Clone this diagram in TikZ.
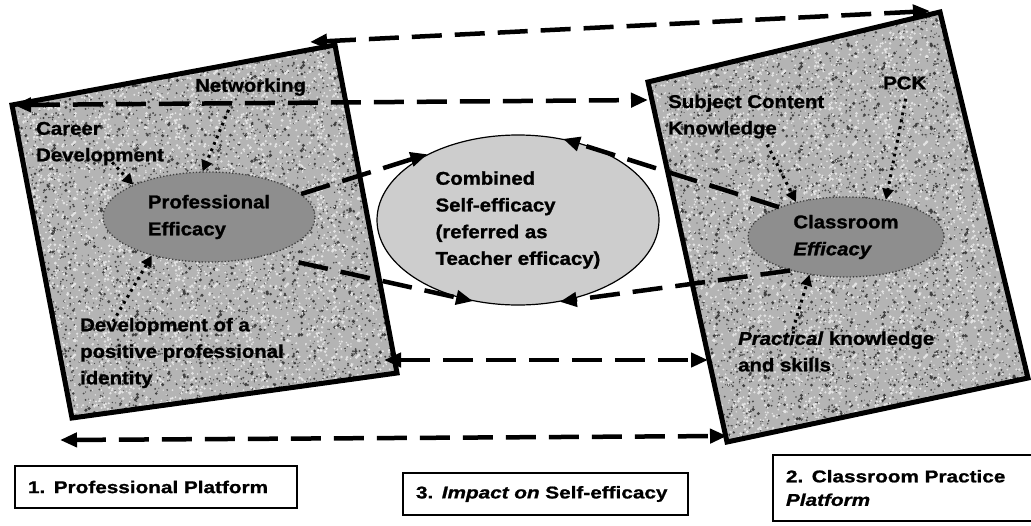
\documentclass[tikz,border=0pt]{standalone}
\usepackage{fontspec}
\setmainfont[FakeStretch=1.1,FakeBold=1.3]{Liberation Sans}
\newfontfamily\boxfont[FakeStretch=1.22,FakeBold=1.1]{Liberation Sans}
\usetikzlibrary{arrows.meta,shapes.geometric,calc,patterns}
\definecolor{granbase}{RGB}{180,180,180}
\definecolor{grandark}{RGB}{75,75,75}
\definecolor{granlight}{RGB}{228,228,228}
\definecolor{effgray}{RGB}{142,142,142}
\definecolor{combgray}{RGB}{205,205,205}
% random speck tiles for the granite texture
\pgfdeclarepatternformonly{gransmall}{\pgfqpoint{0pt}{0pt}}{\pgfqpoint{97pt}{97pt}}{\pgfqpoint{97pt}{97pt}}{%
  \pgfmathsetseed{11}%
  \foreach \i in {1,...,240}{%
    \pgfmathsetmacro\px{rnd*95+1}\pgfmathsetmacro\py{rnd*95+1}\pgfmathsetmacro\pr{0.5+rnd*0.7}%
    \pgfpathcircle{\pgfpoint{\px pt}{\py pt}}{\pr pt}\pgfusepath{fill}}}
\pgfdeclarepatternformonly{granbig}{\pgfqpoint{0pt}{0pt}}{\pgfqpoint{83pt}{83pt}}{\pgfqpoint{83pt}{83pt}}{%
  \pgfmathsetseed{23}%
  \foreach \i in {1,...,40}{%
    \pgfmathsetmacro\px{rnd*79+2}\pgfmathsetmacro\py{rnd*79+2}\pgfmathsetmacro\pr{1+rnd*0.9}%
    \pgfpathcircle{\pgfpoint{\px pt}{\py pt}}{\pr pt}\pgfusepath{fill}}}
\pgfdeclarepatternformonly{granwhite}{\pgfqpoint{0pt}{0pt}}{\pgfqpoint{71pt}{71pt}}{\pgfqpoint{71pt}{71pt}}{%
  \pgfmathsetseed{37}%
  \foreach \i in {1,...,170}{%
    \pgfmathsetmacro\px{rnd*69+1}\pgfmathsetmacro\py{rnd*69+1}\pgfmathsetmacro\pr{0.7+rnd*0.9}%
    \pgfpathcircle{\pgfpoint{\px pt}{\py pt}}{\pr pt}\pgfusepath{fill}}}
\tikzset{
  platform/.style={line width=5pt, line join=miter, draw=black},
  lbl/.style={font=\fontsize{18.5}{26.5}\selectfont\bfseries, align=left, inner sep=0pt, anchor=west, text=black},
  effic/.style={ellipse, fill=effgray, draw=black!75, dotted, line width=1.3pt, inner sep=0pt,
    font=\fontsize{18.5}{27}\selectfont\bfseries, align=left, text=black},
  combined/.style={ellipse, fill=combgray, draw=black, line width=1.2pt, inner sep=0pt,
    font=\fontsize{18.5}{26.7}\selectfont\bfseries, align=left, text=black},
  platlabel/.style={draw=black, line width=1.5pt, inner xsep=13pt, inner ysep=0pt, align=left,
    font=\boxfont\fontsize{17}{23.5}\selectfont\bfseries},
  dasharrow/.style={line width=4.5pt, dash pattern=on 30pt off 13pt,
    {Triangle[length=17pt,width=14pt]}-{Triangle[length=17pt,width=14pt]}},
  oneway/.style={line width=4.5pt, dash pattern=on 30pt off 13pt, -{Triangle[length=17pt,width=14pt]}},
  dotarrow/.style={line width=3pt, dash pattern=on 2.8pt off 4.2pt, -{Triangle[length=11pt,width=11pt]}},
  granite/.style={
    postaction={fill=granbase},
    postaction={pattern=gransmall, pattern color=grandark},
    postaction={pattern=granbig, pattern color=black!75},
    postaction={pattern=granwhite, pattern color=granlight}},
}
\begin{document}
\begin{tikzpicture}[x=1pt,y=-1pt]
\useasboundingbox (0,0) rectangle (1031,525);
\fill[white] (0,0) rectangle (1031,525);
% platform corners
\coordinate (A1) at (12,105);
\coordinate (A2) at (335,45);
\coordinate (A3) at (397,373);
\coordinate (A4) at (72,418);
\coordinate (B1) at (648,82);
\coordinate (B2) at (940,12);
\coordinate (B3) at (1028,378);
\coordinate (B4) at (727,442);
\path[granite] (A1)--(A2)--(A3)--(A4)--cycle;
\path[granite] (B1)--(B2)--(B3)--(B4)--cycle;
\draw[platform] (A1)--(A2)--(A3)--(A4)--cycle;
\draw[platform] (B1)--(B2)--(B3)--(B4)--cycle;

% efficacy ellipses
\node[effic, minimum width=212pt, minimum height=90pt] (pe) at (209,217) {Professional\\Efficacy};
\node[effic, minimum width=196pt, minimum height=80pt] (ce) at (846,237) {Classroom\\\textit{Efficacy}};
\node[combined, minimum width=282pt, minimum height=170pt] (cb) at (518,220)
  {Combined\\Self-efficacy\\(referred as\\Teacher efficacy)};

% labels
\node[lbl] (net) at (195,87) {Networking};
\node[lbl] (car) at (36,143.5) {Career\\Development};
\node[lbl] (dev) at (80,353) {Development of a\\positive professional\\identity};
\node[lbl] (sck) at (668,116.5) {Subject Content\\Knowledge};
\node[lbl] (pck) at (883,83) {PCK};
\node[lbl] (prac) at (738,351.5) {\textit{Practical} knowledge\\and skills};

% dotted influences
\draw[dotarrow] ($(net.south)+(-22,14)$) -- (pe.98);
\draw[dotarrow] ($(car.south)+(12,-3)$) -- (pe.157);
\draw[dotarrow] ($(dev.north west)+(33,4)$) -- (pe.214);
\draw[dotarrow] ($(sck.south)+(21,6)$) -- (ce.145);
\draw[dotarrow] ($(pck.south)+(1,9)$) -- (ce.43);
\draw[dotarrow] ($(prac.north west)+(55,-2)$) -- (ce.226);

% efficacy into combined
\draw[oneway] (pe.14) -- (cb.144);
\draw[oneway] ($(pe.-22)+(12,14)$) -- (cb.241);
\draw[oneway] (ce.156) -- (cb.61);
\draw[oneway] (ce.211) -- (cb.-63);

% links between platforms
\coordinate (t1) at (310,42);
\coordinate (t2) at (930,11);
\coordinate (m1) at (14,105);
\coordinate (m2) at (648,100);
\coordinate (l1) at (384,360);
\coordinate (l2) at (708,360);
\coordinate (b1) at (60,440);
\coordinate (b2) at (727,436);
\draw[dasharrow] (t1) -- (t2);
\draw[dasharrow] (m1) -- (m2);
\draw[dasharrow] (l1) -- (l2);
\draw[dasharrow] (b1) -- (b2);

% platform labels
\node[platlabel, minimum width=282pt, minimum height=42pt, text width=256pt] (p1) at (156,487)
  {1. Professional Platform};
\node[platlabel, minimum width=285pt, minimum height=42pt, text width=259pt] (p3) at (545.5,494)
  {3. \textit{Impact on} Self-efficacy};
\node[platlabel, minimum width=264pt, minimum height=66pt, text width=238pt] (p2) at (905,488)
  {2. Classroom Practice\\\textit{Platform}};
\end{tikzpicture}
\end{document}
